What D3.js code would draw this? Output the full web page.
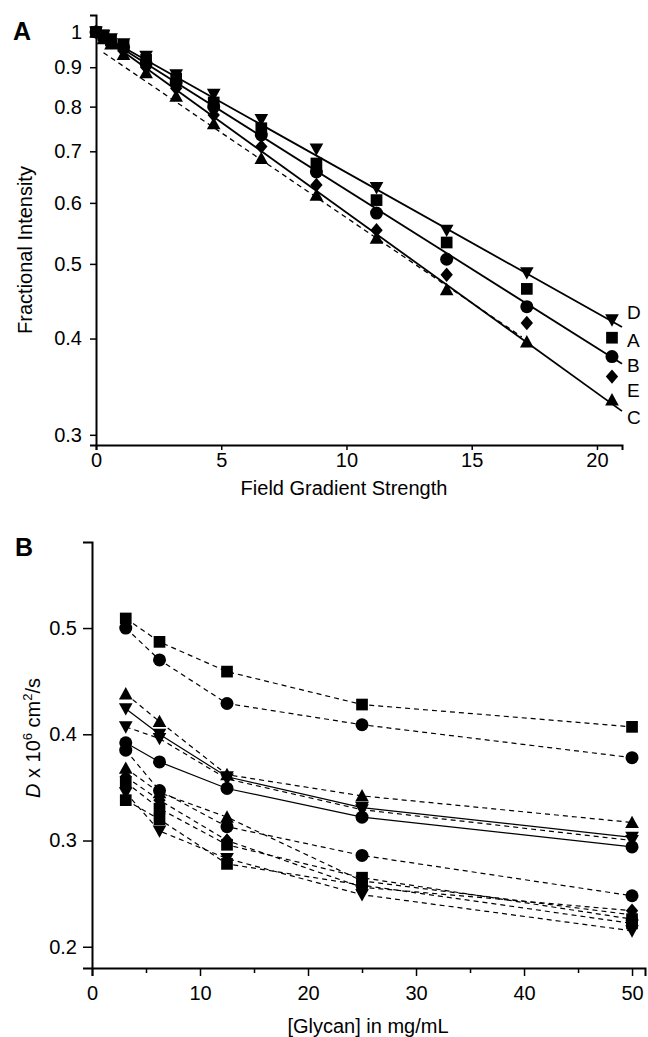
<!DOCTYPE html>
<html><head><meta charset="utf-8">
<script src="https://cdn.jsdelivr.net/npm/d3@7"></script>
<style>
html,body{margin:0;padding:0;background:#fff;}
svg{display:block;font-family:"Liberation Sans",Arial,Helvetica,sans-serif;}
</style></head>
<body>
<svg id="c" width="648" height="1037"></svg>
<script>
// ---------- Panel A data ----------
const gradA = [0, 0.3, 0.6, 1.1, 2.0, 3.2, 4.7, 6.6, 8.8, 11.2, 14.0, 17.2, 20.6];
const seriesD = [1.0, 0.99, 0.98, 0.965, 0.93, 0.88, 0.83, 0.77, 0.705, 0.628, 0.553, 0.487, 0.423];
const seriesA = [1.0, 0.99, 0.975, 0.96, 0.92, 0.87, 0.81, 0.75, 0.675, 0.605, 0.533, 0.464, 0.401];
const seriesB = [1.0, 0.985, 0.97, 0.955, 0.91, 0.86, 0.80, 0.735, 0.658, 0.582, 0.507, 0.44, 0.379];
const seriesE = [1.0, 0.985, 0.97, 0.945, 0.90, 0.845, 0.78, 0.71, 0.633, 0.553, 0.484, 0.419, 0.357];
const seriesC = [1.0, 0.98, 0.965, 0.935, 0.885, 0.825, 0.76, 0.685, 0.614, 0.540, 0.463, 0.396, 0.333];
const namesA = ["D", "A", "B", "E", "C"];
const shapesA = ["tdown", "square", "circle", "diamond", "tup"];
// fitted lines (start/end)
const fitX = [0, 21];
const fitD = [1.0, 0.414];
const fitB = [1.0, 0.371];
const fitC = [1.0, 0.322];
const fitDashX = [0.3, 17];
const fitDash = [0.94, 0.402];
const ticksAy = [0.3, 0.4, 0.5, 0.6, 0.7, 0.8, 0.9, 1];
const ticksAx = [0, 5, 10, 15, 20];

// ---------- Panel B data ----------
const glycan = [3.125, 6.25, 12.5, 25, 50];
const b1 = [0.509, 0.487, 0.459, 0.428, 0.407];
const b2 = [0.500, 0.470, 0.429, 0.409, 0.378];
const b3 = [0.438, 0.412, 0.362, 0.342, 0.317];
const b4 = [0.424, 0.400, 0.360, 0.331, 0.303];
const b5 = [0.407, 0.396, 0.358, 0.329, 0.300];
const b6 = [0.392, 0.374, 0.349, 0.322, 0.294];
const b7 = [0.385, 0.347, 0.313, 0.286, 0.248];
const b8 = [0.368, 0.345, 0.322, 0.262, 0.230];
const b9 = [0.360, 0.338, 0.300, 0.256, 0.234];
const b10 = [0.355, 0.330, 0.296, 0.265, 0.226];
const b11 = [0.338, 0.320, 0.278, 0.258, 0.222];
const b12 = [0.345, 0.309, 0.283, 0.249, 0.215];
const seriesBList = [b1, b2, b3, b4, b5, b6, b7, b8, b9, b10, b11, b12];
const shapesB = ["square", "circle", "tup", "tdown", "tdown", "circle", "circle", "tup", "diamond", "square", "square", "tdown"];
const dashB = [true, true, true, false, true, false, true, true, true, true, true, true];
const ticksBy = [0.2, 0.3, 0.4, 0.5];
const ticksBx = [0, 10, 20, 30, 40, 50];
const minorBx = [5, 15, 25, 35, 45];

// ---------- helpers ----------
const svg = d3.select("#c");
function shapePath(t, s) {
  const h = s / 2;
  switch (t) {
    case "square": return `M${-h*0.9},${-h*0.9}H${h*0.9}V${h*0.9}H${-h*0.9}Z`;
    case "circle": return `M${h},0A${h},${h} 0 1,1 ${-h},0A${h},${h} 0 1,1 ${h},0Z`;
    case "diamond": return `M0,${-h*1.1}L${h*0.95},0L0,${h*1.1}L${-h*0.95},0Z`;
    case "tup": return `M0,${-h*1.05}L${h*1.05},${h*0.85}L${-h*1.05},${h*0.85}Z`;
    case "tdown": return `M0,${h*1.05}L${h*1.05},${-h*0.85}L${-h*1.05},${-h*0.85}Z`;
  }
}

// ---------- Panel A ----------
const xA = d3.scaleLinear().domain([0, 21]).range([96, 622]);
const yA = d3.scaleLog().domain([0.291, 1.052]).range([445, 15]);
const gA = svg.append("g");

const axAy = d3.axisLeft(yA).tickValues(ticksAy).tickSize(6).tickPadding(8)
  .tickFormat(d => d === 1 ? "1" : d3.format(".1f")(d));
const gAy = gA.append("g").attr("transform", `translate(${xA(0)},0)`).call(axAy);
const axAx = d3.axisBottom(xA).tickValues(ticksAx).tickSize(5).tickPadding(3);
const gAx = gA.append("g").attr("transform", `translate(0,${yA.range()[0]})`).call(axAx);
[gAy, gAx].forEach(g => {
  g.select(".domain").attr("stroke", "#000").attr("stroke-width", 2);
  g.selectAll(".tick line").attr("stroke", "#000").attr("stroke-width", 1.5);
  g.selectAll(".tick text").attr("font-size", 20).attr("fill", "#000").attr("font-family", "Liberation Sans, Arial, sans-serif");
});

const lineA = d3.line().x(d => xA(d[0])).y(d => yA(d[1]));
[fitD, fitB, fitC].forEach(f => {
  gA.append("path").attr("d", lineA(fitX.map((x, i) => [x, f[i]])))
    .attr("fill", "none").attr("stroke", "#000").attr("stroke-width", 1.8);
});
gA.append("path").attr("d", lineA(fitDashX.map((x, i) => [x, fitDash[i]])))
  .attr("fill", "none").attr("stroke", "#000").attr("stroke-width", 1.3).attr("stroke-dasharray", "5,4");

const dataA = [seriesD, seriesA, seriesB, seriesE, seriesC];
dataA.forEach((s, k) => {
  gA.append("g").selectAll("path").data(s.map((v, i) => [gradA[i], v])).join("path")
    .attr("transform", d => `translate(${xA(d[0])},${yA(d[1])})`)
    .attr("d", shapePath(shapesA[k], 13)).attr("fill", "#000");
});
// series labels at right
dataA.forEach((s, k) => {
  const labY = [312, 340, 365, 390, 417][k];
  gA.append("text").attr("x", 627).attr("y", labY).attr("dy", "0.35em")
    .attr("font-size", 19).text(namesA[k]);
});
gA.append("text").attr("x", 13).attr("y", 31).attr("dy", "0.35em")
  .attr("font-size", 25).attr("font-weight", "bold").text("A");
gA.append("text").attr("transform", "translate(32,250) rotate(-90)")
  .attr("text-anchor", "middle").attr("font-size", 20).text("Fractional Intensity");
gA.append("text").attr("x", 344).attr("y", 495).attr("text-anchor", "middle")
  .attr("font-size", 20).text("Field Gradient Strength");

// ---------- Panel B ----------
const xB = d3.scaleLinear().domain([0, 51.2]).range([92, 645]);
const yB = d3.scaleLinear().domain([0.180, 0.581]).range([968, 542]);
const gB = svg.append("g");
const axBy = d3.axisLeft(yB).tickValues(ticksBy).tickSize(9).tickPadding(6).tickFormat(d3.format(".1f"));
const gBy = gB.append("g").attr("transform", `translate(${xB(0)},0)`).call(axBy);
const axBx = d3.axisBottom(xB).tickValues(ticksBx).tickSize(8).tickPadding(10).tickFormat(d3.format("d"));
const gBx = gB.append("g").attr("transform", `translate(0,${yB.range()[0]})`).call(axBx);
gB.append("g").attr("transform", `translate(0,${yB.range()[0]})`)
  .call(d3.axisBottom(xB).tickValues(minorBx).tickSize(5).tickFormat(""))
  .call(g => g.select(".domain").remove())
  .selectAll(".tick line").attr("stroke", "#000").attr("stroke-width", 1.5);
[gBy, gBx].forEach(g => {
  g.select(".domain").attr("stroke", "#000").attr("stroke-width", 2);
  g.selectAll(".tick line").attr("stroke", "#000").attr("stroke-width", 1.5);
  g.selectAll(".tick text").attr("font-size", 20).attr("fill", "#000").attr("font-family", "Liberation Sans, Arial, sans-serif");
});

const lineB = d3.line().x(d => xB(d[0])).y(d => yB(d[1]));
seriesBList.forEach((s, k) => {
  gB.append("path").attr("d", lineB(s.map((v, i) => [glycan[i], v])))
    .attr("fill", "none").attr("stroke", "#000").attr("stroke-width", 1.2)
    .attr("stroke-dasharray", dashB[k] ? "5,4" : null);
});
seriesBList.forEach((s, k) => {
  gB.append("g").selectAll("path").data(s.map((v, i) => [glycan[i], v])).join("path")
    .attr("transform", d => `translate(${xB(d[0])},${yB(d[1])})`)
    .attr("d", shapePath(shapesB[k], 13)).attr("fill", "#000");
});

gB.append("text").attr("x", 15).attr("y", 547).attr("dy", "0.35em")
  .attr("font-size", 25).attr("font-weight", "bold").text("B");
const yl = gB.append("text").attr("transform", "translate(40,738) rotate(-90)")
  .attr("text-anchor", "middle").attr("font-size", 20);
yl.append("tspan").attr("font-style", "italic").text("D");
yl.append("tspan").text(" x 10");
yl.append("tspan").attr("dy", -8).attr("font-size", 13).text("6");
yl.append("tspan").attr("dy", 8).text(" cm");
yl.append("tspan").attr("dy", -8).attr("font-size", 13).text("2");
yl.append("tspan").attr("dy", 8).text("/s");
gB.append("text").attr("x", 368).attr("y", 1033).attr("text-anchor", "middle")
  .attr("font-size", 20).text("[Glycan] in mg/mL");
</script>
</body></html>
